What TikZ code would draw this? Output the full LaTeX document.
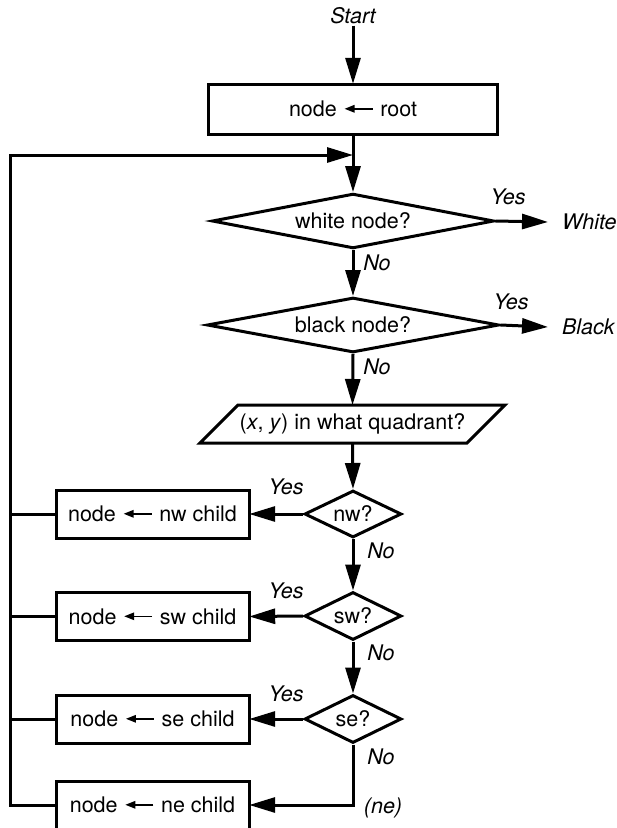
\documentclass[tikz,border=0pt]{standalone}
\usepackage{fontspec}
\setmainfont{TeX Gyre Heros}
\usetikzlibrary{shapes.geometric,arrows.meta}
\newcommand\larrow{\hspace{1pt}\tikz[baseline=-0.7ex]\draw[line width=1.5pt,-{Triangle[length=10pt,width=7.5pt]}] (28pt,0pt) -- (0pt,0pt);\hspace{1pt}}
\begin{document}
\begin{tikzpicture}[x=1pt,y=-1pt,
  line width=3pt,
  every node/.style={font=\fontsize{21.5}{25}\selectfont},
  box/.style={draw, rectangle, minimum width=193pt, minimum height=48pt, inner sep=0pt},
  dec/.style={draw, diamond, inner sep=0pt, aspect=3},
  lab/.style={font=\fontsize{21.5}{25}\selectfont\itshape, inner sep=0pt},
  endlab/.style={font=\fontsize{21.5}{25}\selectfont\itshape, anchor=west, inner xsep=14pt, inner ysep=0pt, outer sep=0pt},
  arr/.style={-{Triangle[length=26pt,width=15pt]}}]
\useasboundingbox (0,0) rectangle (617,828);

% nodes
\node[lab] (start) at (353,16) {Start};
\node[draw, minimum width=289pt, minimum height=50pt, inner sep=0pt] (root) at (353,109) {node \larrow\ root};
\coordinate (join) at (353,155);
\node[dec, minimum width=282pt, minimum height=48pt] (white) at (353,221) {white node?};
\node[endlab] (whitet) at (548,222) {White};
\node[dec, minimum width=292pt, minimum height=48pt] (black) at (353,325) {black node?};
\node[endlab] (blackt) at (548,327) {Black};
\node[minimum width=267pt, minimum height=38pt, inner sep=0pt, outer sep=0pt] (quad) at (352.5,424) {(\textit{x}, \textit{y}) in what quadrant?};
\draw ([xshift=19pt]quad.north west) -- ([xshift=19pt]quad.north east) -- ([xshift=-19pt]quad.south east) -- ([xshift=-19pt]quad.south west) -- cycle;

\node[dec, minimum width=97pt, minimum height=47pt] (nw) at (353,514) {nw?};
\node[dec, minimum width=97pt, minimum height=48pt] (sw) at (353,616) {sw?};
\node[dec, minimum width=97pt, minimum height=48pt] (se) at (353,719) {se?};
\node[box] (nwbox) at (152.5,514) {node \larrow\ nw child};
\node[box] (swbox) at (152.5,616.5) {node \larrow\ sw child};
\node[box] (sebox) at (152.5,719) {node \larrow\ se child};
\node[box] (nebox) at (152.5,805) {node \larrow\ ne child};
\coordinate (Ltop) at (10,155);
\coordinate (Lbot) at (10,805);

% labels
\node[lab] (y1) at (508,197) {Yes};
\node[lab] (n1) at (377,263) {No};
\node[lab] (y2) at (511,302) {Yes};
\node[lab] (n2) at (377,367) {No};
\node[lab] (y3) at (286,487) {Yes};
\node[lab] (n3) at (381,551) {No};
\node[lab] (y4) at (286,591) {Yes};
\node[lab] (n4) at (381,653) {No};
\node[lab] (y5) at (286,694) {Yes};
\node[lab] (n5) at (381,757) {No};
\node[lab] (ne) at (383,808) {(ne)};

% connectors
\draw[arr] (start.south) -- (root.north);
\draw[arr] (root.south) -- (white.north);
\draw[arr] (nebox.west) -- (Lbot) -- (Ltop) -- (join);
\draw (nwbox.west) -- (nwbox.west -| Lbot);
\draw (swbox.west) -- (swbox.west -| Lbot);
\draw (sebox.west) -- (sebox.west -| Lbot);
\draw[arr] (white.east) -- (whitet.west);
\draw[arr] (white.south) -- (black.north);
\draw[arr] (black.east) -- (blackt.west);
\draw[arr] (black.south) -- (quad.north);
\draw[arr] (quad.south) -- (nw.north);
\draw[arr] (nw.west) -- (nwbox.east);
\draw[arr] (nw.south) -- (sw.north);
\draw[arr] (sw.west) -- (swbox.east);
\draw[arr] (sw.south) -- (se.north);
\draw[arr] (se.west) -- (sebox.east);
\draw[arr] (se.south) |- (nebox.east);
\end{tikzpicture}
\end{document}
